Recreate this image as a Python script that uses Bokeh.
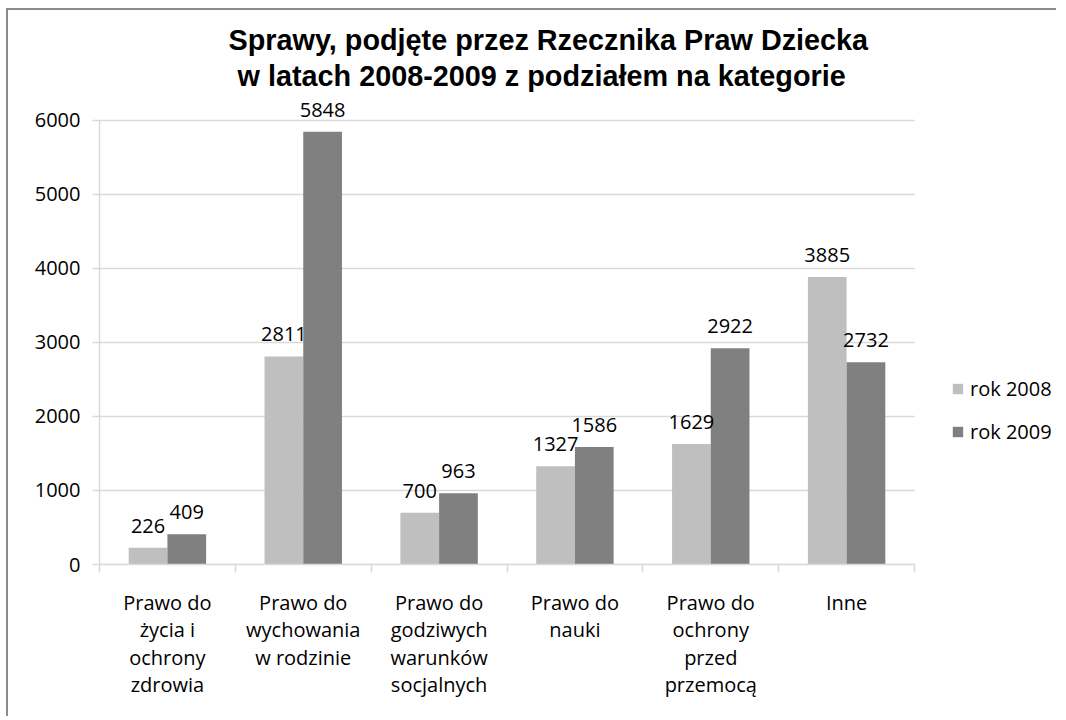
from bokeh.plotting import figure
from bokeh.models import ColumnDataSource, FixedTicker, Title, Legend, LegendItem, Range1d
from bokeh.core.properties import value
from bokeh.embed import file_html
from bokeh.resources import INLINE

# ---- data ----
categories = [
    "Prawo do\nżycia i\nochrony\nzdrowia",
    "Prawo do\nwychowania\nw rodzinie",
    "Prawo do\ngodziwych\nwarunków\nsocjalnych",
    "Prawo do\nnauki",
    "Prawo do\nochrony\nprzed\nprzemocą",
    "Inne",
]
rok_2008 = [226, 2811, 700, 1327, 1629, 3885]
rok_2009 = [409, 5848, 963, 1586, 2922, 2732]
series_names = ["rok 2008", "rok 2009"]
y_ticks = [0, 1000, 2000, 3000, 4000, 5000, 6000]
title_lines = ["Sprawy, podjęte przez Rzecznika Praw Dziecka",
               "w latach 2008-2009 z podziałem na kategorie"]

FONT = "Open Sans"
TITLE_FONT = "Liberation Sans"
C08 = "#bfbfbf"
C09 = "#808080"
GRID = "#d9d9d9"

n = len(categories)
centers = [i + 0.5 for i in range(n)]
bw = 0.285
X_END = 7.06      # extra room to the right of the categories for the legend
Y_END = 6350      # head-room above the top gridline for the value labels

src08 = ColumnDataSource(dict(x=[c - bw / 2 for c in centers], top=rok_2008,
                              label=[str(v) for v in rok_2008]))
src09 = ColumnDataSource(dict(x=[c + bw / 2 for c in centers], top=rok_2009,
                              label=[str(v) for v in rok_2009]))
grid_src = ColumnDataSource(dict(x0=[0] * len(y_ticks), x1=[n] * len(y_ticks),
                                 y=y_ticks))

p = figure(width=1050, height=708, title=None,
           x_range=Range1d(0, X_END), y_range=Range1d(0, Y_END),
           output_backend="svg", toolbar_location=None,
           min_border_left=91, min_border_right=0,
           min_border_top=84, min_border_bottom=154)
p.styles = {"border-top": "2px solid #8c8c8c", "border-left": "2px solid #8c8c8c",
            "margin-left": "6px", "margin-top": "8px"}
p.outline_line_color = None
p.background_fill_color = "white"
p.xgrid.visible = False
p.ygrid.visible = False

# horizontal gridlines over the category area only
p.segment(x0="x0", y0="y", x1="x1", y1="y", source=grid_src,
          line_color=GRID, line_width=1.5)

r08 = p.vbar(x="x", top="top", width=bw, source=src08, fill_color=C08, line_color=None)
r09 = p.vbar(x="x", top="top", width=bw, source=src09, fill_color=C09, line_color=None)

for src in (src08, src09):
    p.text(x="x", y="top", text="label", source=src, text_align="center",
           text_baseline="middle", y_offset=-22, text_font=value(FONT),
           text_font_size="20px", text_color="#000000")

# titles (added closest-to-frame first)
t2 = Title(text=title_lines[1], align="left", offset=138, text_font=TITLE_FONT,
           text_font_size="28.8px", text_font_style="bold", text_color="#000000", standoff=5)
t1 = Title(text=title_lines[0], align="left", offset=129, text_font=TITLE_FONT,
           text_font_size="28.8px", text_font_style="bold", text_color="#000000", standoff=0)
p.add_layout(t2, "above")
p.add_layout(t1, "above")

# x axis
xa = p.xaxis[0]
xa.ticker = FixedTicker(ticks=centers, minor_ticks=list(range(n + 1)))
xa.bounds = (0, n)
xa.major_label_overrides = {c: cat for c, cat in zip(centers, categories)}
xa.major_tick_line_color = None
xa.major_tick_in = 0
xa.major_tick_out = 0
xa.minor_tick_in = 0
xa.minor_tick_out = 8
xa.minor_tick_line_color = GRID
xa.minor_tick_line_width = 1.5
xa.axis_line_color = GRID
xa.axis_line_width = 1.5
xa.major_label_standoff = 16
xa.major_label_text_font = FONT
xa.major_label_text_font_size = "20px"
xa.major_label_text_color = "#000000"
xa.major_label_text_line_height = 1.02

# y axis
ya = p.yaxis[0]
ya.ticker = FixedTicker(ticks=y_ticks, minor_ticks=[])
ya.bounds = (0, 6000)
ya.major_tick_in = 0
ya.major_tick_out = 7
ya.major_tick_line_color = GRID
ya.major_tick_line_width = 1.5
ya.axis_line_color = GRID
ya.axis_line_width = 1.5
ya.major_label_standoff = 12
ya.major_label_text_font = FONT
ya.major_label_text_font_size = "20px"
ya.major_label_text_color = "#000000"

legend = Legend(items=[LegendItem(label=series_names[0], renderers=[r08]),
                       LegendItem(label=series_names[1], renderers=[r09])],
                location=(852, 119), orientation="vertical",
                glyph_width=13, glyph_height=13, label_standoff=6,
                label_text_font=FONT, label_text_font_size="20px", label_text_color="#000000",
                spacing=16, padding=10, margin=0,
                border_line_color=None, background_fill_alpha=0)
p.add_layout(legend)

open("out.html", "w").write(file_html(p, INLINE))
